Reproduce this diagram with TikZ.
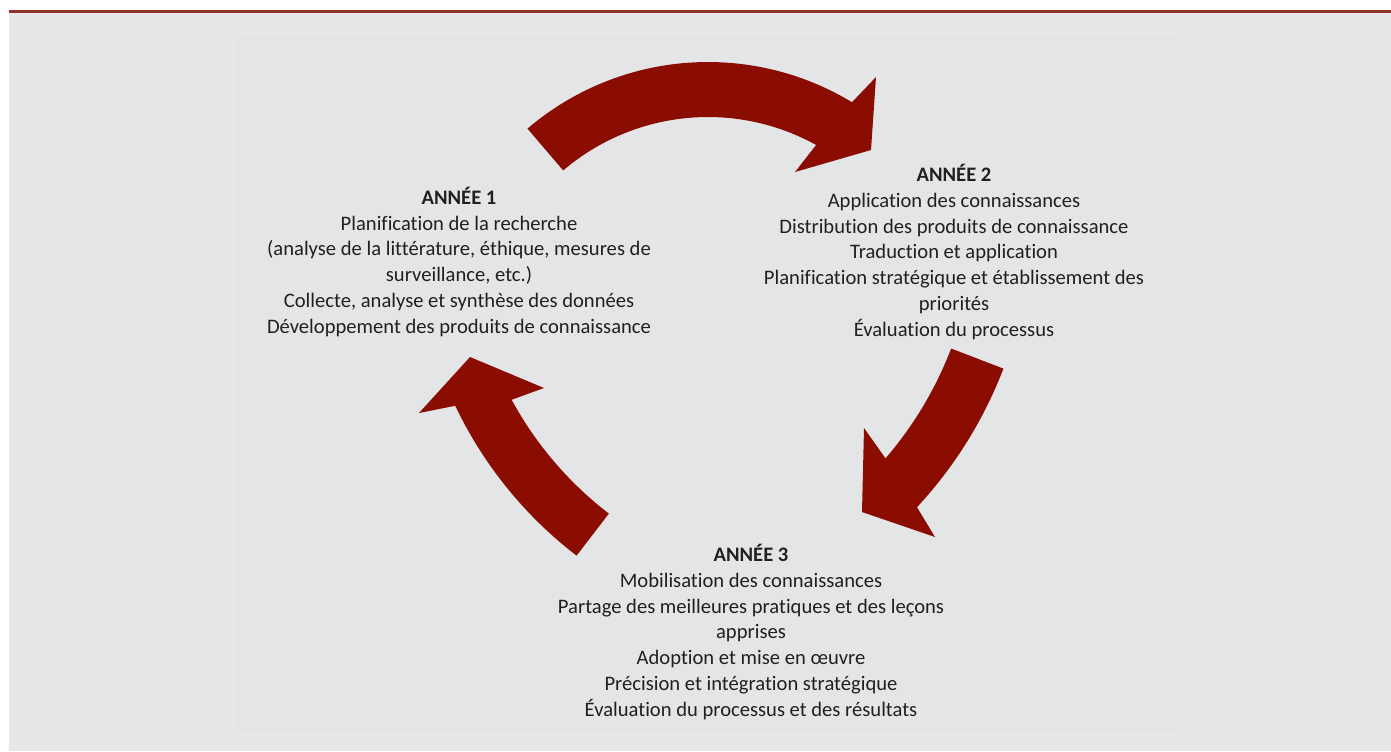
\documentclass[tikz,border=0pt]{standalone}
\usepackage{fontspec}
\setmainfont{Carlito}[Ligatures=NoCommon]
\usepackage{xcolor}
\definecolor{bandred}{HTML}{94302A}
\definecolor{arrowred}{HTML}{8B0C00}
\definecolor{panelgray}{HTML}{E6E7E9}
\definecolor{innergray}{HTML}{E4E5E7}
\definecolor{textgray}{HTML}{231F20}

\begin{document}
\begin{tikzpicture}[
  x=0.5pt, y=-0.5pt,
  yearbox/.style={align=center, inner sep=0pt, text=textgray, font=\fontsize{10.3}{12.85}\selectfont},
  cyclearrow/.style={fill=arrowred, draw=none}
]
\useasboundingbox (0,0) rectangle (1391,751);
\fill[panelgray] (9,13) rectangle (1391,751);
\fill[innergray] (235,35) rectangle (1176,732);
\fill[bandred] (9,10) rectangle (1391,13);

% year 1 -> year 2
\fill[cyclearrow] plot[domain=130.5:58.8, samples=50] ({708+278*cos(\x)}, {340-278*sin(\x)})
  -- (876,77) -- (871,150) -- (795,172)
  -- plot[domain=61:130.5, samples=50] ({708+223*cos(\x)}, {340-223*sin(\x)}) -- cycle;

% year 2 -> year 3
\fill[cyclearrow] plot[domain=-21:-40.7, samples=40] ({602+374*cos(\x)}, {214.5-374*sin(\x)})
  -- (864,428) -- (862,512) -- (935,537)
  -- plot[domain=-42.9:-21, samples=40] ({602+430*cos(\x)}, {214.5-430*sin(\x)}) -- cycle;

% year 3 -> year 1
\fill[cyclearrow] plot[domain=232.5:205.5, samples=40] ({828+413*cos(\x)}, {228-413*sin(\x)})
  -- (419,413) -- (470,357) -- (544,388)
  -- plot[domain=208.5:232.5, samples=40] ({828+360*cos(\x)}, {228-360*sin(\x)}) -- cycle;

\node[yearbox, anchor=base] (y1) at (459,333) {\textbf{ANNÉE 1}\\Planification de la recherche\\(analyse de la littérature, éthique, mesures de\\surveillance, etc.)\\Collecte, analyse et synthèse des données\\Développement des produits de connaissance};
\node[yearbox, anchor=base] (y2) at (954,336) {\textbf{ANNÉE 2}\\Application des connaissances\\Distribution des produits de connaissance\\Traduction et application\\Planification stratégique et établissement des\\priorités\\Évaluation du processus};
\node[yearbox, anchor=base] (y3) at (751,716) {\textbf{ANNÉE 3}\\Mobilisation des connaissances\\Partage des meilleures pratiques et des leçons\\apprises\\Adoption et mise en œuvre\\Précision et intégration stratégique\\Évaluation du processus et des résultats};
\end{tikzpicture}
\end{document}
